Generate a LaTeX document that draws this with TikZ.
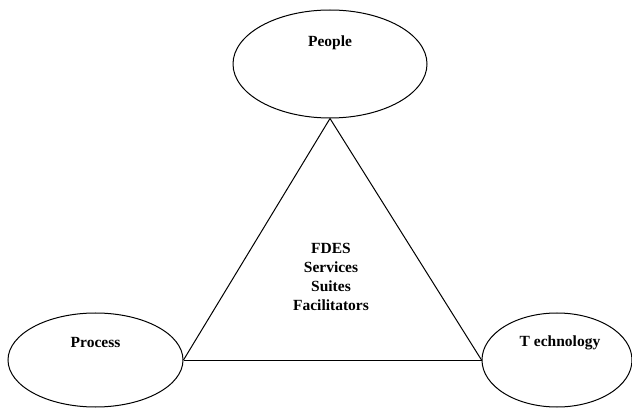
\documentclass[tikz,border=0pt]{standalone}
\usepackage{fontspec}
\setmainfont{Liberation Serif}
\usetikzlibrary{shapes.geometric}
\begin{document}
\begin{tikzpicture}[x=1pt,y=1pt,
  oval/.style={draw=black, line width=1pt, ellipse, inner sep=0pt, fill=white},
  caption/.style={font=\fontsize{15.5}{17}\selectfont\bfseries},
  edge/.style={draw=black, line width=1pt}]
  \useasboundingbox (0,0) rectangle (632,410);
  % the three corner ovals
  \node[oval, minimum width=194pt, minimum height=108pt] (people) at (330,346) {};
  \node[oval, minimum width=175pt, minimum height=94pt] (process) at (95.5,50) {};
  \node[oval, minimum width=150pt, minimum height=94pt] (technology) at (557,50) {};
  % their titles
  \node[caption] (peopleText) at (330,367) {People};
  \node[caption] (processText) at (95.5,67) {Process};
  \node[caption] (technologyText) at (560,67) {T echnology};
  % the triangle joining them
  \draw[edge] (people.south) -- (process.east);
  \draw[edge] (process.east) -- (technology.west);
  \draw[edge] (technology.west) -- (people.south);
  % centre text
  \node[caption, align=center, font=\fontsize{15.5}{19}\selectfont\bfseries] (centre) at (331,133)
    {FDES\\Services\\Suites\\Facilitators};
\end{tikzpicture}
\end{document}
